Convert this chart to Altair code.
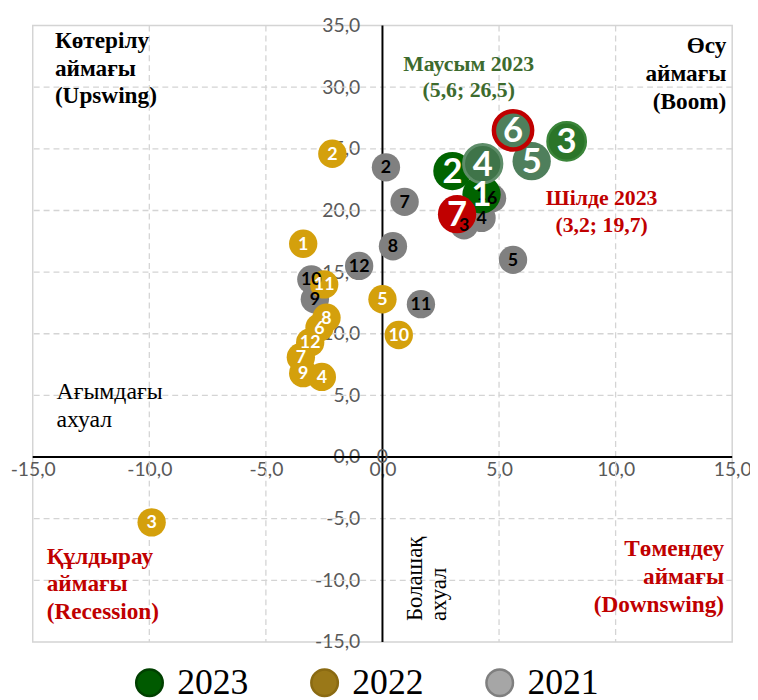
import altair as alt
import pandas as pd

# ---------------- data ----------------
years = ["2023", "2022", "2021"]

months_2023 = [1, 2, 3, 4, 5, 6, 7]
x_2023 = [4.25, 3.0, 7.9, 4.3, 6.4, 5.6, 3.2]
y_2023 = [21.3, 23.2, 25.6, 23.8, 24.0, 26.5, 19.7]

months_2022 = [1, 2, 3, 4, 5, 6, 7, 8, 9, 10, 11, 12]
x_2022 = [-3.4, -2.15, -9.9, -2.6, 0.0, -2.7, -3.5, -2.4, -3.4, 0.7, -2.5, -3.1]
y_2022 = [17.3, 24.6, -5.3, 6.5, 12.8, 10.5, 8.1, 11.3, 6.8, 9.9, 14.0, 9.3]

months_2021 = [1, 2, 3, 4, 5, 6, 7, 8, 9, 10, 11, 12]
x_2021 = [4.25, 0.15, 3.5, 4.25, 5.6, 4.7, 0.95, 0.45, -2.9, -3.05, 1.65, -1.0]
y_2021 = [21.3, 23.5, 18.8, 19.4, 16.0, 21.0, 20.7, 17.1, 12.8, 14.4, 12.4, 15.5]

x_ticks = [-15, -10, -5, 0, 5, 10, 15]
y_ticks = [-15, -10, -5, 0, 5, 10, 15, 20, 25, 30, 35]
x_grid = [-10, -5, 5, 10]
y_grid = [-10, -5, 5, 10, 15, 20, 25, 30]

# annotations (text, x, y in data units; y = first line)
quad_black_text = ["Көтерілу\nаймағы\n(Upswing)", "Өсу\nаймағы\n(Boom)"]
quad_black_x = [-14.05, 14.75]
quad_black_y = [33.75, 33.3]
quad_black_align = ["left", "right"]

quad_red_text = ["Құлдырау\nаймағы\n(Recession)", "Төмендеу\nаймағы\n(Downswing)"]
quad_red_x = [-14.4, 14.65]
quad_red_y = [-8.1, -7.5]
quad_red_align = ["left", "right"]

june_text = ["Маусым 2023\n(5,6; 26,5)"]
june_x = [3.7]
june_y = [31.9]

july_text = ["Шілде 2023\n(3,2; 19,7)"]
july_x = [9.4]
july_y = [21.0]

current_text = ["Ағымдағы\nахуал"]
current_x = [-13.98]
current_y = [5.3]

future_text = ["Болашақ\nахуал"]
future_x = [1.4]
future_y = [-13.3]

origin_text = ["0"]
origin_x = [0]
origin_y = [0]

# ---------------- styling ----------------
W, H = 707, 623
XDOM, YDOM = [-15, 15], [-15, 35]
y_axis_off = -W * (0 - XDOM[0]) / (XDOM[1] - XDOM[0])   # vertical axis sits at x = 0
x_axis_off = -H * (0 - YDOM[0]) / (YDOM[1] - YDOM[0])   # horizontal axis sits at y = 0

label_expr = "replace(replace(format(datum.value, '.1f'), '.', ','), '\u2212', '-')"
AX_FONT = "Lato"
SERIF = "Liberation Serif"

xaxis = alt.Axis(orient="bottom", offset=x_axis_off, domain=False, ticks=False, grid=False,
                 values=x_ticks, labelExpr=label_expr, labelFont=AX_FONT, labelFontSize=19.5,
                 labelColor="#595959", labelPadding=4, labelFlush=False, labelOverlap=False,
                 title=None)
yaxis = alt.Axis(orient="left", offset=y_axis_off, domain=False, ticks=False, grid=False,
                 values=y_ticks, labelExpr=label_expr, labelFont=AX_FONT, labelFontSize=19.5,
                 labelColor="#595959", labelPadding=23, labelFlush=False, labelOverlap=False,
                 title=None)
xscale = alt.Scale(domain=XDOM, nice=False, zero=False)
yscale = alt.Scale(domain=YDOM, nice=False, zero=False)
X = alt.X("x:Q", scale=xscale, axis=xaxis, title=None)
Y = alt.Y("y:Q", scale=yscale, axis=yaxis, title=None)

df23 = pd.DataFrame({"month": months_2023, "x": x_2023, "y": y_2023})
df22 = pd.DataFrame({"month": months_2022, "x": x_2022, "y": y_2022})
df21 = pd.DataFrame({"month": months_2021, "x": x_2021, "y": y_2021})
for d in (df23, df22, df21):
    d["label"] = d["month"].astype(str)

# grid
gx = alt.Chart(pd.DataFrame({"x": x_grid})).mark_rule(
    color="#d4d4d4", strokeDash=[6, 4], strokeWidth=1.3).encode(x=X)
gy = alt.Chart(pd.DataFrame({"y": y_grid})).mark_rule(
    color="#d4d4d4", strokeDash=[6, 4], strokeWidth=1.3).encode(y=Y)
zx = alt.Chart(pd.DataFrame({"x": [0]})).mark_rule(color="black", strokeWidth=2).encode(x=X)
zy = alt.Chart(pd.DataFrame({"y": [0]})).mark_rule(color="black", strokeWidth=2).encode(y=Y)

SMALL = 820
BIG = 1500

p21 = alt.Chart(df21).mark_circle(size=SMALL, opacity=1, color="#808080").encode(x=X, y=Y)
p22 = alt.Chart(df22).mark_circle(size=SMALL, opacity=1, color="#d4a00c").encode(x=X, y=Y)

fill23 = {"condition": [
    {"test": "datum.month == 7", "value": "#c00000"},
    {"test": "datum.month <= 2", "value": "#006400"},
    {"test": "datum.month == 3", "value": "#2b7529"},
    {"test": "datum.month == 4", "value": "#3f7449"},
], "value": "#4f7f5c"}
stroke23 = {"condition": [
    {"test": "datum.month == 6", "value": "#c00000"},
    {"test": "datum.month == 4", "value": "#5e8d69"},
    {"test": "datum.month == 3", "value": "#3b853a"},
], "value": "transparent"}
sw23 = {"condition": [
    {"test": "datum.month == 6", "value": 4.5},
    {"test": "datum.month == 4", "value": 3},
    {"test": "datum.month == 3", "value": 2.5},
], "value": 0}

p23 = alt.Chart(df23).mark_circle(size=BIG, opacity=1).encode(
    x=X, y=Y, fill=fill23, stroke=stroke23, strokeWidth=sw23, order=alt.Order("month:Q"))

t21 = alt.Chart(df21).mark_text(font=AX_FONT, fontWeight="bold", fontSize=18, color="black",
                                 align="center", baseline="middle", dy=1).encode(x=X, y=Y, text="label:N")
t22 = alt.Chart(df22).mark_text(font=AX_FONT, fontWeight="bold", fontSize=18, color="white",
                                 align="center", baseline="middle", dy=1).encode(x=X, y=Y, text="label:N")
t23 = alt.Chart(df23).mark_text(font=AX_FONT, fontWeight="bold", fontSize=35, color="white",
                                 align="center", baseline="middle", dy=1).encode(x=X, y=Y, text="label:N")


def ann(texts, xs, ys, color, weight="bold", size=23.5, align="left", lh=28, angle=0):
    d = pd.DataFrame({"text": texts, "x": xs, "y": ys})
    return alt.Chart(d).mark_text(font=SERIF, fontWeight=weight, fontSize=size, color=color,
                                  align=align, baseline="middle", lineBreak="\n",
                                  lineHeight=lh, angle=angle).encode(x=X, y=Y, text="text:N")


a1 = ann(quad_black_text[:1], quad_black_x[:1], quad_black_y[:1], "black", align=quad_black_align[0])
a2 = ann(quad_black_text[1:], quad_black_x[1:], quad_black_y[1:], "black", align=quad_black_align[1])
a3 = ann(quad_red_text[:1], quad_red_x[:1], quad_red_y[:1], "#c00000", align=quad_red_align[0])
a4 = ann(quad_red_text[1:], quad_red_x[1:], quad_red_y[1:], "#c00000", align=quad_red_align[1])
a5 = ann(june_text, june_x, june_y, "#3d6b2e", size=22, align="center", lh=27)
a6 = ann(july_text, july_x, july_y, "#c00000", size=22, align="center", lh=27)
a7 = ann(current_text, current_x, current_y, "black", weight="normal", size=24, align="left", lh=29)
a8 = ann(future_text, future_x, future_y, "black", weight="normal", size=23, align="left", lh=24, angle=270)
a9 = alt.Chart(pd.DataFrame({"text": origin_text, "x": origin_x, "y": origin_y})).mark_text(
    font=AX_FONT, fontSize=19.5, color="#595959", align="center", baseline="middle").encode(
    x=X, y=Y, text="text:N")

# legend (legend-only layer, no visible marks)
legend_fill = ["#005a00", "#9a7818", "#a6a6a6"]
legend_stroke = ["#004000", "#8a6a12", "#7f7f7f"]
leg_props = dict(orient="none", legendX=100, legendY=646, direction="horizontal",
                 title=None, labelFont=SERIF, labelFontSize=36, labelColor="black",
                 symbolSize=720, symbolType="circle", symbolStrokeWidth=2.5,
                 labelOffset=10, columnPadding=58, symbolOpacity=1)
leg = alt.Chart(pd.DataFrame({"year": years})).transform_filter("false").mark_circle(
    opacity=1).encode(
    fill=alt.Fill("year:N", sort=years, scale=alt.Scale(domain=years, range=legend_fill),
                  legend=alt.Legend(**leg_props)),
    stroke=alt.Stroke("year:N", sort=years, scale=alt.Scale(domain=years, range=legend_stroke),
                      legend=alt.Legend(**leg_props)),
)

chart = alt.layer(
    gx, gy, zx, zy, p21, p22, p23, t21, t22, t23, a1, a2, a3, a4, a5, a6, a7, a8, a9, leg
).properties(
    width=W, height=H,
    autosize=alt.AutoSizeParams(type="none"),
    padding={"left": 25, "top": 14, "right": 18, "bottom": 62},
).configure_view(fill="#f2f2f2", stroke="#d4d4d4", strokeWidth=1.5)

chart.save("out.html", embed_options={"renderer": "svg", "actions": False})
